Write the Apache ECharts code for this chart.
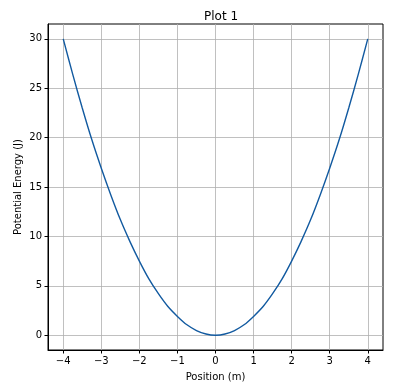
<!DOCTYPE html>
<html>
<head>
<meta charset="utf-8">
<script src="https://cdn.jsdelivr.net/npm/echarts@6/dist/echarts.min.js"></script>
<style>html,body{margin:0;padding:0;background:#fff}#c{width:397px;height:390px}</style>
</head>
<body>
<div id="c"></div>
<script>
const positions = [-4,-3.75,-3.5,-3.25,-3,-2.75,-2.5,-2.25,-2,-1.75,-1.5,-1.25,-1,-0.75,-0.5,-0.25,0,0.25,0.5,0.75,1,1.25,1.5,1.75,2,2.25,2.5,2.75,3,3.25,3.5,3.75,4];
const energies = [30,26.4,23.0,19.8,16.9,14.2,11.7,9.5,7.5,5.7,4.2,2.9,1.9,1.05,0.47,0.12,0,0.12,0.47,1.05,1.9,2.9,4.2,5.7,7.5,9.5,11.7,14.2,16.9,19.8,23.0,26.4,30];
const xTicks = [-4,-3,-2,-1,0,1,2,3,4];
const yTicks = [0,5,10,15,20,25,30];

const chart = echarts.init(document.getElementById('c'), null, {renderer:'canvas'});
const font = 'DejaVu Sans';
chart.setOption({
  animation:false,
  title:{text:'Plot 1', left:216, top:6, textAlign:'center',
    textStyle:{fontFamily:font, fontSize:12, fontWeight:'normal', color:'#000'}},
  grid:{left:48, top:24, right:14, bottom:40, show:true, borderColor:'#000', borderWidth:1, backgroundColor:'transparent'},
  xAxis:{type:'value', min:-4.4, max:4.4,
    name:'Position (m)', nameLocation:'middle', nameGap:22, nameMoveOverlap:false,
    nameTextStyle:{fontFamily:font, fontSize:10, color:'#000'},
    axisLine:{show:true, onZero:false, lineStyle:{color:'#000'}},
    axisTick:{show:true, customValues:xTicks, length:3.5, lineStyle:{color:'#000'}},
    axisLabel:{customValues:xTicks, fontFamily:font, fontSize:10, color:'#000', margin:6,
      formatter:v=> v<0 ? '\u2212'+Math.abs(v) : String(v)},
    splitLine:{show:true, lineStyle:{color:'#b0b0b0', width:0.8}}
  },
  yAxis:{type:'value', min:-1.5, max:31.5,
    name:'Potential Energy (J)', nameLocation:'middle', nameGap:25, nameMoveOverlap:false,
    nameTextStyle:{fontFamily:font, fontSize:10, color:'#000'},
    axisLine:{show:true, onZero:false, lineStyle:{color:'#000'}},
    axisTick:{show:true, customValues:yTicks, length:3.5, lineStyle:{color:'#000'}},
    axisLabel:{customValues:yTicks, fontFamily:font, fontSize:10, color:'#000', margin:6},
    splitLine:{show:true, lineStyle:{color:'#b0b0b0', width:0.8}}
  },
  series:[{type:'line', data:positions.map((x,i)=>[x,energies[i]]), smooth:0.3,
    showSymbol:false, lineStyle:{color:'#125aa0', width:1.4}}]
});
</script>
</body>
</html>
